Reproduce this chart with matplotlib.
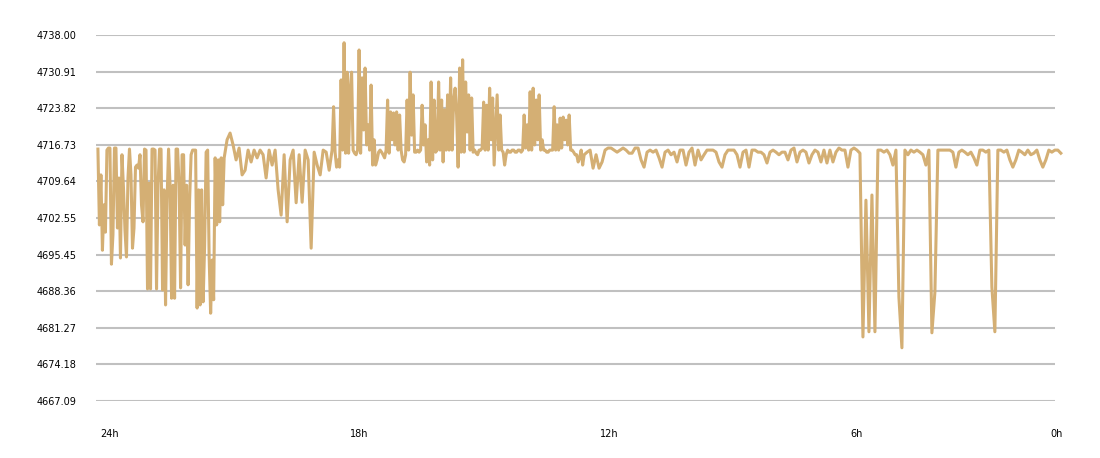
import numpy as np
import matplotlib
matplotlib.use("Agg")
import matplotlib.pyplot as plt

# 24h .. 21h ago, sampled twice as often: deep swings
swing_values = [
    4715.9, 4701.2, 4710.9, 4696.3, 4705.1, 4699.8, 4715.7, 4716.1, 4716.1, 4693.6,
    4699.3, 4716.1, 4716.1, 4700.6, 4710.3, 4694.8, 4714.8, 4708.4, 4700.2, 4695.0,
    4710.3, 4715.9, 4710.9, 4696.7, 4700.6, 4712.4, 4712.8, 4712.2, 4714.8, 4705.1,
    4701.8, 4715.9, 4715.7, 4688.8, 4709.3, 4688.8, 4715.9, 4715.9, 4715.7, 4688.8,
    4708.9, 4715.9, 4715.9, 4688.6, 4708.0, 4685.7, 4706.0, 4715.9, 4708.9, 4687.0,
    4708.9, 4687.0, 4715.9, 4715.9, 4708.9, 4689.0, 4714.8, 4714.8, 4697.3, 4708.9,
    4689.6, 4706.0, 4714.8, 4715.7, 4715.7, 4715.7, 4685.1, 4708.0, 4685.7, 4708.0,
    4686.3, 4697.3, 4715.3, 4715.7, 4695.0, 4684.1, 4694.4, 4686.7, 4714.2, 4701.2,
    4713.8, 4701.8, 4714.2, 4705.1, 4714.2,
]

# 21h .. 18h ago
calm_values = [
    4717.7, 4719.0, 4716.7, 4713.8, 4716.1, 4710.9, 4711.8, 4715.7, 4713.4, 4715.7,
    4714.2, 4715.7, 4714.8, 4710.3, 4715.7, 4712.8, 4715.7, 4708.0, 4703.1, 4714.8,
    4701.8, 4713.8, 4715.7, 4705.5, 4714.8, 4705.6, 4715.7, 4713.8, 4696.7, 4715.3,
    4712.8, 4710.9, 4715.7, 4715.3, 4711.8,
]

# 18h .. 12.4h ago, sampled twice as often: spikes up
spike_values = [
    4715.7, 4724.1, 4715.3, 4712.4, 4713.8, 4712.4, 4729.3, 4715.7, 4736.5, 4715.1,
    4730.8, 4715.1, 4727.3, 4730.8, 4715.7, 4715.1, 4714.8, 4715.7, 4735.1, 4715.1,
    4729.7, 4719.6, 4731.6, 4716.7, 4720.6, 4715.7, 4728.3, 4712.8, 4717.7, 4712.8,
    4713.8, 4715.3, 4715.7, 4715.3, 4714.8, 4714.2, 4715.7, 4725.4, 4715.1, 4723.1,
    4717.7, 4722.9, 4716.7, 4723.1, 4715.7, 4722.5, 4715.7, 4713.8, 4713.4, 4714.8,
    4725.4, 4715.7, 4730.8, 4718.6, 4726.4, 4715.3, 4715.3, 4715.7, 4715.3, 4715.7,
    4724.4, 4716.7, 4720.6, 4713.4, 4717.7, 4712.8, 4728.9, 4713.8, 4725.4, 4715.3,
    4715.7, 4728.9, 4715.7, 4725.4, 4713.4, 4723.5, 4715.7, 4726.4, 4715.7, 4729.7,
    4715.7, 4725.4,
    4727.7, 4722.5, 4712.4, 4731.6, 4715.3, 4733.2, 4715.3, 4728.9, 4719.2, 4726.4,
    4715.7, 4725.8, 4715.3, 4715.7, 4715.1, 4714.8, 4715.7, 4715.7, 4716.1, 4725.0,
    4715.7, 4724.4, 4715.7, 4727.7, 4717.7, 4725.8, 4712.8, 4719.6, 4726.4, 4715.7,
    4722.5, 4715.7, 4715.3, 4712.8, 4714.8, 4715.7, 4715.3, 4715.3, 4715.7, 4715.7,
    4715.3, 4715.3, 4715.7, 4715.7, 4715.3, 4715.7, 4722.5, 4716.1, 4720.6, 4715.7,
    4727.0, 4715.7, 4727.7, 4716.7, 4725.4, 4717.7, 4726.4, 4715.7, 4717.7, 4715.7,
    4715.7, 4715.3, 4715.3, 4715.7, 4715.7, 4715.7, 4724.1, 4715.7, 4720.6, 4715.7,
    4721.9, 4716.1, 4722.1, 4717.7, 4721.5, 4716.7, 4722.5, 4715.7, 4715.7, 4715.3,
    4714.8, 4714.8, 4713.4, 4714.2, 4715.7, 4712.8, 4714.8,
]

# 12.3h ago .. now
rest_values = [
    # quiet
    4715.3, 4715.7, 4712.2, 4714.8, 4712.2, 4713.4, 4715.7, 4716.1, 4716.1, 4715.7,
    4715.3, 4715.7, 4716.1, 4715.7, 4715.1, 4715.1, 4716.1, 4716.1, 4713.8, 4712.4,
    4715.3, 4715.7, 4715.3, 4715.7, 4714.2, 4712.4, 4715.3, 4715.7, 4714.8, 4715.3,
    4713.4, 4715.7, 4715.7, 4712.8, 4715.3, 4716.1, 4712.8, 4715.7, 4713.8, 4714.8,
    4715.7, 4715.7, 4715.7, 4715.3, 4713.4, 4712.4, 4714.8, 4715.7, 4715.7, 4715.7,
    4714.8, 4712.4, 4715.3, 4715.7, 4712.4, 4715.7, 4715.7, 4715.3, 4715.3, 4714.8,
    4713.2, 4715.3, 4715.7, 4715.3, 4714.8, 4715.3, 4715.3, 4713.8, 4715.7, 4716.1,
    4713.4, 4715.3, 4715.7, 4715.3, 4713.2, 4714.8, 4715.7, 4715.3, 4713.4, 4715.7,
    4713.2, 4715.7, 4713.4, 4715.3, 4716.1, 4715.7, 4715.7, 4712.4, 4715.7, 4716.1,
    # 6h .. now, quiet with a few drops
    4715.7, 4715.1, 4679.5, 4706.0, 4680.5, 4707.0, 4680.5, 4715.7, 4715.7, 4715.3,
    4715.7, 4714.8, 4712.8, 4715.7, 4687.2, 4677.4, 4715.7, 4714.8, 4715.7, 4715.3,
    4715.7, 4715.3, 4714.8, 4712.8, 4715.7, 4680.3, 4688.2, 4715.7, 4715.7, 4715.7,
    4715.7, 4715.7, 4715.3, 4712.4, 4715.3, 4715.7, 4715.3, 4714.8, 4715.3, 4714.2,
    4712.8, 4715.7, 4715.7, 4715.3, 4715.7, 4689.2, 4680.5, 4715.7, 4715.7, 4715.3,
    4715.7, 4713.8, 4712.4, 4713.8, 4715.7, 4715.3, 4714.8, 4715.7, 4714.8, 4715.1,
    4715.7, 4713.8, 4712.4, 4713.8, 4715.7, 4715.3, 4715.7, 4715.7, 4715.1,
]

# time span of each block (first and last sample), in hours ago
swing_span = (24.05, 21.02)
calm_span = (20.95, 18.50)
spike_span = (18.43, 12.38)
rest_span = (12.31, 0.94)

y_ticks = [4667.09, 4674.18, 4681.27, 4688.36, 4695.45, 4702.55,
           4709.64, 4716.73, 4723.82, 4730.91, 4738.00]
x_tick_pos = [24, 18, 12, 6, 1.2]
x_tick_labels = ["24h", "18h", "12h", "6h", "0h"]

blocks = [(swing_values, swing_span), (calm_values, calm_span),
          (spike_values, spike_span), (rest_values, rest_span)]
hours = np.concatenate([np.linspace(s[0], s[1], len(v)) for v, s in blocks])
prices = np.concatenate([v for v, s in blocks])

fig = plt.figure(figsize=(11, 4.58), dpi=100)
ax = fig.add_axes([96 / 1100, 57 / 458, 1004 / 1100, 366 / 458])

# horizontal grid lines stop short of the right edge
ax.hlines(y_ticks, 24.096, 1.08, color="#c0c0c0", linewidth=1.5, zorder=1)
ax.plot(hours, prices, color="#d4af74", linewidth=2.2, zorder=2,
        clip_on=False)

ax.set_xlim(24.096, 0)
ax.set_ylim(4667.09, 4738.00)
for s in ax.spines.values():
    s.set_visible(False)

ax.set_yticks(y_ticks)
ax.set_yticklabels([f"{v:.2f}" for v in y_ticks])
ax.set_xticks(x_tick_pos)
ax.set_xticklabels(x_tick_labels, ha="left")
ax.tick_params(axis="y", length=0, pad=14, labelsize=7, labelcolor="#000000")
ax.tick_params(axis="x", length=0, pad=20, labelsize=7, labelcolor="#000000")

fig.savefig("out.png", dpi=100)
